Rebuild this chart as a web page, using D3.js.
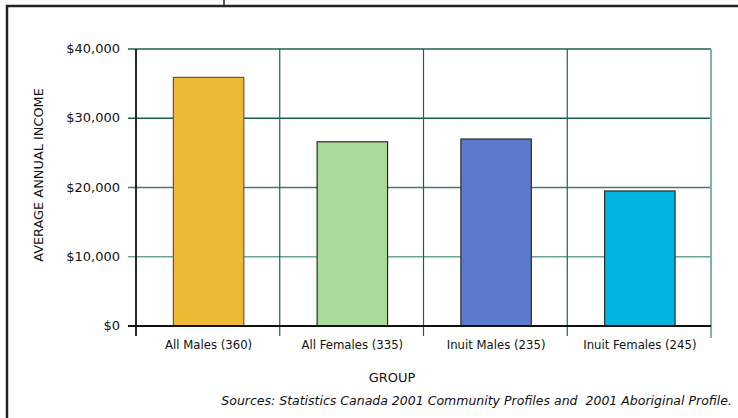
<!DOCTYPE html>
<html>
<head>
<meta charset="utf-8">
<script src="https://cdn.jsdelivr.net/npm/d3@7"></script>
<style>
  body { margin: 0; background: #fff; }
  text { font-family: "DejaVu Sans", Verdana, sans-serif; fill: #111; }
</style>
</head>
<body>
<div id="chart"></div>
<script>
const groups = ["All Males (360)", "All Females (335)", "Inuit Males (235)", "Inuit Females (245)"]
const incomes = [35900, 26600, 27000, 19500]
const barColors = ["#edba35", "#a9dc9a", "#5b79cd", "#00b5e0"]
const yTicks = [0, 10000, 20000, 30000, 40000]

const width = 738
const height = 418
const margin = {top: 49, right: 27, bottom: 92, left: 136}

const svg = d3.select("#chart")
  .append("svg")
  .attr("width", width)
  .attr("height", height)

// outer frame (top and left edges only)
svg.append("path")
  .attr("fill", "none")
  .attr("stroke", "#222")
  .attr("stroke-width", 2.5)
  .attr("d", `M${width},6H7V${height}`)
svg.append("line")
  .attr("x1", 224).attr("x2", 224)
  .attr("y1", 0).attr("y2", 6)
  .attr("stroke", "#222")
  .attr("stroke-width", 1.5)

const x = d3.scaleBand()
  .domain(groups)
  .range([margin.left, width - margin.right])
  .paddingInner(0)

const y = d3.scaleLinear()
  .domain([0, 40000])
  .range([height - margin.bottom, margin.top])

const gridColor = d3.scaleLinear()
  .domain([0, 10000, 20000, 30000])
  .range(["#222", "#6fa297", "#3f7d72", "#1d5c50"])
  .clamp(true)

// horizontal gridlines with little ticks out to the left
svg.append("g")
  .selectAll("line")
  .data(yTicks.filter(d => d > 0))
  .join("line")
    .attr("x1", margin.left - 8)
    .attr("x2", width - margin.right)
    .attr("y1", d => y(d))
    .attr("y2", d => y(d))
    .attr("stroke", d => gridColor(d))
    .attr("stroke-width", 1.5)

// vertical gridlines between groups
svg.append("g")
  .selectAll("line")
  .data(groups.slice(1))
  .join("line")
    .attr("x1", d => x(d))
    .attr("x2", d => x(d))
    .attr("y1", y(40000))
    .attr("y2", y(0) + 10)
    .attr("stroke", "#1d6055")
    .attr("stroke-width", 1.2)

svg.append("line")
  .attr("x1", width - margin.right)
  .attr("x2", width - margin.right)
  .attr("y1", y(40000))
  .attr("y2", y(0) + 12)
  .attr("stroke", "#7fb3ab")
  .attr("stroke-width", 2)

// bars
svg.append("g")
  .selectAll("rect")
  .data(groups)
  .join("rect")
    .attr("x", d => x(d) + x.bandwidth() * 0.26)
    .attr("width", x.bandwidth() * 0.49)
    .attr("y", (d, i) => y(incomes[i]))
    .attr("height", (d, i) => y(0) - y(incomes[i]))
    .attr("fill", (d, i) => barColors[i])
    .attr("stroke", (d, i) => i === 0 ? "#5a5a5a" : "#2a2a2a")
    .attr("stroke-width", 1.2)

// axes lines
svg.append("line")
  .attr("x1", margin.left - 8)
  .attr("x2", width - margin.right)
  .attr("y1", y(0)).attr("y2", y(0))
  .attr("stroke", "#111")
  .attr("stroke-width", 1.8)
svg.append("line")
  .attr("x1", margin.left).attr("x2", margin.left)
  .attr("y1", y(40000)).attr("y2", y(0) + 10)
  .attr("stroke", "#111")
  .attr("stroke-width", 1.8)

// y tick labels
svg.append("g")
  .attr("text-anchor", "end")
  .selectAll("text")
  .data(yTicks)
  .join("text")
    .attr("x", margin.left - 16)
    .attr("y", d => y(d))
    .attr("dy", "0.32em")
    .style("font-size", "13px")
    .text(d => d3.format("$,")(d))

// category labels
svg.append("g")
  .attr("text-anchor", "middle")
  .selectAll("text")
  .data(groups)
  .join("text")
    .attr("x", d => x(d) + x.bandwidth() * 0.505)
    .attr("y", y(0) + 23)
    .style("font-size", "11.7px")
    .text(d => d)

svg.append("text")
  .attr("text-anchor", "middle")
  .attr("x", 392)
  .attr("y", 382)
  .style("font-size", "13px")
  .text("GROUP")

svg.append("text")
  .attr("text-anchor", "middle")
  .attr("transform", `translate(43,175) rotate(-90)`)
  .style("font-size", "12.9px")
  .text("AVERAGE ANNUAL INCOME")

svg.append("text")
  .attr("text-anchor", "end")
  .attr("x", 732)
  .attr("y", 405)
  .style("font-size", "12.5px")
  .style("font-style", "italic")
  .attr("xml:space", "preserve")
  .style("white-space", "pre")
  .text("Sources: Statistics Canada 2001 Community Profiles and  2001 Aboriginal Profile.")
</script>
</body>
</html>
